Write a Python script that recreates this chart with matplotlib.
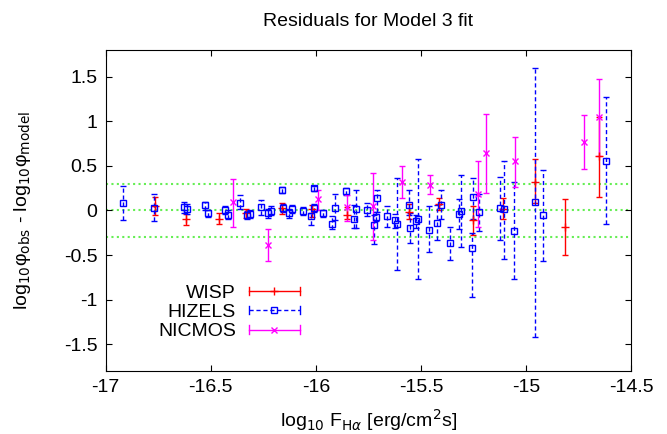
import matplotlib
matplotlib.use('Agg')
import matplotlib.pyplot as plt
import numpy as np
from matplotlib.lines import Line2D
from matplotlib.legend_handler import HandlerLine2D

plt.rcParams['font.family'] = ['Liberation Sans', 'DejaVu Sans']
plt.rcParams['font.size'] = 14

# WISP residuals: x, y, lower bound, upper bound
wisp_x = [-16.765, -16.62, -16.462, -16.33, -16.162, -16.016, -15.85, -15.558,
          -15.413, -15.254, -15.111, -14.959, -14.813, -14.654]
wisp_y = [0.045, -0.10, -0.10, -0.03, 0.027, 0.02, -0.05, -0.02,
          0.07, -0.11, 0.016, 0.32, -0.185, 0.61]
wisp_lo = [-0.056, -0.16, -0.15, -0.085, -0.04, -0.07, -0.10, -0.096,
           0.01, -0.28, -0.10, 0.08, -0.50, 0.15]
wisp_hi = [0.156, -0.04, -0.03, 0.02, 0.08, 0.06, 0.04, 0.075,
           0.14, 0.055, 0.14, 0.58, 0.13, 1.05]

# HIZELS residuals
hiz_x = [-16.916, -16.769, -16.626, -16.613, -16.527, -16.514, -16.43, -16.416,
         -16.362, -16.326, -16.314, -16.26, -16.227, -16.213, -16.159, -16.158,
         -16.126, -16.115, -16.062, -16.022, -16.01, -16.008, -15.964, -15.924,
         -15.911, -15.856, -15.82, -15.81, -15.757, -15.722, -15.712, -15.707,
         -15.659, -15.622, -15.614, -15.556, -15.554, -15.524, -15.514, -15.459,
         -15.421, -15.403, -15.36, -15.32, -15.31, -15.257, -15.254, -15.221,
         -15.122, -15.102, -15.056, -14.956, -14.921, -14.62]
hiz_y = [0.082, 0.033, 0.038, 0.016, 0.056, -0.03, 0.005, -0.05,
         0.082, -0.056, -0.04, 0.038, -0.03, -0.003, 0.23, 0.027,
         -0.03, 0.016, -0.003, -0.067, 0.25, 0.027, -0.03, -0.148,
         0.027, 0.22, -0.10, 0.016, 0.008, -0.16, -0.07, 0.14,
         -0.06, -0.11, -0.15, 0.063, -0.20, -0.12, -0.096, -0.215,
         -0.14, 0.063, -0.36, -0.04, -0.003, -0.42, 0.15, -0.02,
         0.027, 0.016, -0.225, 0.09, -0.055, 0.56]
hiz_lo = [-0.11, -0.12, -0.03, -0.04, 0.0, -0.07, -0.04, -0.10,
          0.02, -0.10, -0.08, -0.05, -0.08, -0.05, 0.20, -0.02,
          -0.085, -0.03, -0.05, -0.16, 0.22, -0.02, -0.07, -0.21,
          -0.11, 0.17, -0.20, -0.20, -0.067, -0.38, -0.12, -0.02,
          -0.18, -0.20, -0.67, -0.05, -0.37, -0.20, -0.77, -0.47,
          -0.33, -0.10, -0.55, -0.21, -0.41, -0.97, -0.10, -0.23,
          -0.33, -0.54, -0.77, -1.42, -0.57, -0.15]
hiz_hi = [0.27, 0.19, 0.09, 0.07, 0.09, 0.01, 0.05, 0.0,
          0.175, -0.01, 0.0, 0.12, 0.02, 0.045, 0.26, 0.07,
          0.02, 0.06, 0.04, -0.03, 0.28, 0.07, 0.01, -0.067,
          0.19, 0.25, 0.06, 0.23, 0.085, -0.05, -0.02, 0.23,
          0.05, -0.04, 0.36, 0.23, -0.03, -0.05, 0.58, 0.045,
          0.063, 0.23, -0.18, 0.13, 0.40, -0.25, 0.36, 0.18,
          0.37, 0.56, 0.32, 1.60, 0.45, 1.27]

# NICMOS residuals
nic_x = [-16.395, -16.227, -15.99, -15.85, -15.726, -15.588, -15.456, -15.226,
         -15.19, -15.054, -14.722, -14.651]
nic_y = [0.09, -0.39, 0.127, 0.04, 0.05, 0.32, 0.29, 0.18,
         0.65, 0.55, 0.77, 1.05]
nic_lo = [-0.19, -0.57, 0.008, -0.12, -0.33, 0.14, 0.18, -0.19,
          0.20, 0.26, 0.47, 0.61]
nic_hi = [0.353, -0.21, 0.23, 0.17, 0.42, 0.50, 0.40, 0.56,
          1.08, 0.82, 1.07, 1.48]

ref_levels = [0.3, 0.0, -0.3]


class CapHandler(HandlerLine2D):
    # gnuplot-style key sample: line with caps at both ends
    def create_artists(self, legend, orig_handle, xdescent, ydescent,
                       width, height, fontsize, trans):
        arts = super().create_artists(legend, orig_handle, xdescent, ydescent,
                                      width, height, fontsize, trans)
        yc = height / 2.0 - ydescent
        for xx in (-xdescent, width - xdescent):
            cap = Line2D([xx, xx], [yc - 3, yc + 3], color=orig_handle.get_color(), lw=1.0)
            cap.set_transform(trans)
            arts.append(cap)
        return arts


def plot_set(ax, x, y, lo, hi, color, marker, ms, dashed=False):
    y = np.array(y)
    yerr = [y - np.array(lo), np.array(hi) - y]
    eb = ax.errorbar(x, y, yerr=yerr, fmt=marker, color=color, ms=ms,
                     mfc='none', mec=color, mew=1.0, elinewidth=1.0,
                     capsize=2.2, capthick=1.0)
    if dashed:
        eb[2][0].set_linestyle((0, (3, 2)))
    return eb


fig = plt.figure(figsize=(6.67, 4.34), dpi=100)
ax = fig.add_axes([0.1585, 0.1452, 0.7875, 0.7396])

for lev in ref_levels:
    ax.axhline(lev, color='#66ee55', lw=1.5, ls=(0, (1, 1.6)), zorder=1)

plot_set(ax, wisp_x, wisp_y, wisp_lo, wisp_hi, '#ff0000', '+', 6)
plot_set(ax, hiz_x, hiz_y, hiz_lo, hiz_hi, '#0000ff', 's', 5, dashed=True)
plot_set(ax, nic_x, nic_y, nic_lo, nic_hi, '#ff00ff', 'x', 5)

ax.set_xlim(-17, -14.5)
ax.set_ylim(-1.8, 1.8)
ax.set_xticks([-17, -16.5, -16, -15.5, -15, -14.5])
ax.set_xticklabels(['-17', '-16.5', '-16', '-15.5', '-15', '-14.5'])
ax.set_yticks([1.5, 1, 0.5, 0, -0.5, -1, -1.5])
ax.set_yticklabels(['1.5', '1', '0.5', '0', '-0.5', '-1', '-1.5'])
ax.tick_params(direction='in', length=4, width=0.8, top=True, right=True, pad=6)

ax.set_title('Residuals for Model 3 fit', fontsize=14, pad=17.5)
ax.set_xlabel(r'log$_{10}$ F$_{\mathrm{H}\alpha}$ [erg/cm$^2$s]', labelpad=8)
ax.set_ylabel(r'log$_{10}$φ$_{\mathrm{obs}}$ - log$_{10}$φ$_{\mathrm{model}}$', labelpad=22)

handles = [
    Line2D([], [], color='#ff0000', marker='+', ms=6, lw=1.0),
    Line2D([], [], color='#0000ff', marker='s', ms=5, mfc='none', lw=1.0, ls=(0, (3, 2))),
    Line2D([], [], color='#ff00ff', marker='x', ms=5, lw=1.0),
]
ax.legend(handles, ['WISP', 'HIZELS', 'NICMOS'], markerfirst=False, frameon=False,
          loc='upper right', bbox_to_anchor=(300 / 667, 1 - 284 / 434),
          bbox_transform=fig.transFigure, borderpad=0, borderaxespad=0,
          handlelength=2.63, handletextpad=0.67, labelspacing=0.09,
          handler_map={Line2D: CapHandler()})

fig.savefig('out.png', dpi=100)
